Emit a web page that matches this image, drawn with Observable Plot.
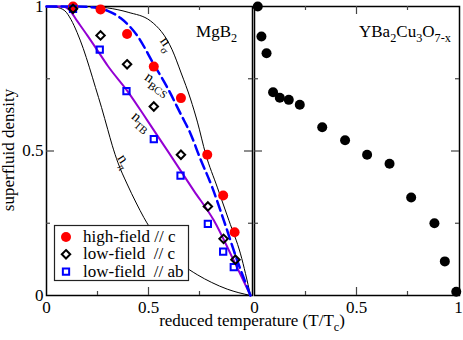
<!DOCTYPE html>
<html><head><meta charset="utf-8">
<script src="https://cdn.jsdelivr.net/npm/d3@7"></script>
<script src="https://cdn.jsdelivr.net/npm/@observablehq/plot@0.6"></script>
<style>
body{margin:0;background:#fff;}
#wrap{position:relative;width:463px;height:340px;}
#wrap svg{position:absolute;left:0;top:0;}
</style></head><body><div id="wrap"></div>
<script>
// ---- MgB2 measurements ----
const highFieldC_T = [0.13,0.265,0.395,0.526,0.659,0.788,0.866,0.922];
const highFieldC   = [1.0,0.99,0.905,0.792,0.683,0.487,0.346,0.219];
const lowFieldC_T  = [0.13,0.265,0.395,0.526,0.659,0.791,0.868,0.926];
const lowFieldC    = [0.992,0.90,0.80,0.654,0.487,0.308,0.196,0.124];
const lowFieldAB_T = [0.13,0.261,0.392,0.526,0.657,0.791,0.866,0.918];
const lowFieldAB   = [0.992,0.851,0.707,0.541,0.415,0.248,0.152,0.098];
// ---- model curves ----
const nSigmaT = [0,0.2,0.3,0.4,0.51,0.616,0.66,0.706,0.74,0.78,0.837,0.894,0.951,1];
const nSigma  = [1,1,0.995,0.98,0.95,0.85,0.77,0.68,0.6,0.49,0.375,0.26,0.144,0];
const nBCST = [0,0.15,0.25,0.3,0.363,0.444,0.526,0.592,0.66,0.706,0.75,0.812,0.869,0.935,1];
const nBCS  = [1,1,0.995,0.985,0.96,0.9,0.8,0.72,0.625,0.56,0.48,0.375,0.26,0.121,0];
const nTBT = [0,0.08,0.11,0.15,0.2,0.248,0.3,0.395,0.494,0.592,0.722,0.82,0.918,1];
const nTB  = [1,1,0.99,0.95,0.9,0.85,0.795,0.709,0.606,0.502,0.363,0.26,0.121,0];
const nPiT = [0,0.05,0.09,0.12,0.15,0.18,0.21,0.24,0.27,0.3,0.322,0.35,0.395,0.44,0.477,0.53,0.592,0.66,0.739,0.81,0.886,1];
const nPi  = [1,0.997,0.985,0.955,0.91,0.855,0.79,0.72,0.65,0.575,0.52,0.46,0.386,0.32,0.27,0.21,0.156,0.11,0.072,0.045,0.022,0];
// ---- YBCO measurements ----
const ybcoT = [0.016,0.034,0.059,0.091,0.124,0.168,0.222,0.332,0.444,0.552,0.662,0.768,0.882,0.933,0.989];
const ybco  = [1.0,0.896,0.838,0.703,0.684,0.677,0.66,0.582,0.537,0.487,0.456,0.339,0.25,0.118,0.013];
// ---- ticks ----
const majorTicks = [0,0.5,1];
const minorTicks = [0.25,0.75];
const tickLabels = ["0","0.5","1"];

const zip = (xs, ys) => xs.map((t, i) => ({t, v: ys[i]}));
const FONT = "'Liberation Serif', 'Times New Roman', serif";
const fmt = d => tickLabels[majorTicks.indexOf(d)];

function tickMarks(xmax, pxX, pxY) {
  const tk = [...minorTicks.map(v => ({v, L: 4})), {v: 0.5, L: 8}];
  const st = {stroke: "#444", strokeWidth: 1.2};
  return [
    Plot.ruleX(tk, {x: "v", y1: 0, y2: d => d.L / pxY, ...st}),
    Plot.ruleX(tk, {x: "v", y1: 1, y2: d => 1 - d.L / pxY, ...st}),
    Plot.ruleY(tk, {y: "v", x1: 0, x2: d => d.L / pxX, ...st}),
    Plot.ruleY(tk, {y: "v", x1: xmax, x2: d => xmax - d.L / pxX, ...st})
  ];
}

const common = {
  width: 463, height: 340, marginTop: 6, marginBottom: 45,
  style: {fontFamily: FONT, fontSize: "17px", background: "transparent", overflow: "visible", color: "black"}
};

const xmaxL = 206 / 204;
const left = Plot.plot({
  ...common,
  marginLeft: 46, marginRight: 211,
  x: {domain: [0, xmaxL]},
  y: {domain: [0, 1]},
  marks: [
    Plot.frame({stroke: "black", strokeWidth: 1.5}),
    ...tickMarks(xmaxL, 204, 289),
    Plot.line(zip(nPiT, nPi), {x: "t", y: "v", stroke: "black", strokeWidth: 1, curve: "monotone-x"}),
    Plot.line(zip(nSigmaT, nSigma), {x: "t", y: "v", stroke: "black", strokeWidth: 1, curve: "monotone-x"}),
    Plot.line(zip(nTBT, nTB), {x: "t", y: "v", stroke: "#9400d3", strokeWidth: 2, curve: "monotone-x"}),
    Plot.line(zip(nBCST, nBCS), {x: "t", y: "v", stroke: "#0000ff", strokeWidth: 2.5, strokeDasharray: "10,5", curve: "monotone-x"}),
    Plot.dot(zip(highFieldC_T, highFieldC), {x: "t", y: "v", r: 5, fill: "#ff0000", stroke: "none"}),
    Plot.dot(zip(lowFieldAB_T, lowFieldAB), {x: "t", y: "v", r: 4, symbol: "square2", fill: "none", stroke: "#0000ff", strokeWidth: 2}),
    Plot.dot(zip(lowFieldC_T, lowFieldC), {x: "t", y: "v", r: 3.8, symbol: "diamond2", fill: "none", stroke: "black", strokeWidth: 2}),
    Plot.axisX({ticks: [0, 0.5], tickSize: 0, tickPadding: 5, tickFormat: fmt, label: null, fontFamily: FONT}),
    Plot.axisY({ticks: majorTicks, tickSize: 0, tickPadding: 3, tickFormat: fmt, label: null, fontFamily: FONT})
  ]
});

const xmaxR = 205 / 204;
const right = Plot.plot({
  ...common,
  marginLeft: 254, marginRight: 4,
  x: {domain: [0, xmaxR]},
  y: {domain: [0, 1], axis: null},
  marks: [
    Plot.frame({stroke: "black", strokeWidth: 1.5}),
    ...tickMarks(xmaxR, 204, 289),
    Plot.dot(zip(ybcoT, ybco), {x: "t", y: "v", r: 5, fill: "black", stroke: "none"}),
    Plot.axisX({ticks: majorTicks, tickSize: 0, tickPadding: 5, tickFormat: fmt, label: null, fontFamily: FONT})
  ]
});

const wrap = document.getElementById("wrap");
wrap.appendChild(left);
wrap.appendChild(right);

function rich(sel, x, y, parts, {size = 17, anchor = "start", rotate = 0} = {}) {
  const t = sel.append("text")
    .attr("transform", `translate(${x},${y}) rotate(${rotate})`)
    .style("font-family", FONT).style("font-size", size + "px")
    .attr("text-anchor", anchor).attr("fill", "black")
    .style("white-space", "pre");
  let shift = 0;
  for (const [s, sub] of parts) {
    const sp = t.append("tspan").text(s);
    const target = sub ? size * 0.32 : 0;
    if (target !== shift) sp.attr("dy", target - shift);
    if (sub) sp.style("font-size", (size * 0.72) + "px");
    shift = target;
  }
  return t;
}

const sxL = left.scale("x"), syL = left.scale("y");
const sxR = right.scale("x"), syR = right.scale("y");
const gL = d3.select(left), gR = d3.select(right);

// panel titles
rich(gL, sxL.apply(0.937), syL.apply(0.893), [["MgB", 0], ["2", 1]], {anchor: "end"});
rich(gR, sxR.apply(0.965), syR.apply(0.893), [["YBa", 0], ["2", 1], ["Cu", 0], ["3", 1], ["O", 0], ["7-x", 1]], {anchor: "end"});

// curve labels
const curveLabels = [
  {t: 0.575, v: 0.86, parts: [["n", 0], ["σ", 1]], rot: 55},
  {t: 0.535, v: 0.72, parts: [["n", 0], ["BCS", 1]], rot: 35},
  {t: 0.455, v: 0.59, parts: [["n", 0], ["TB", 1]], rot: 40},
  {t: 0.365, v: 0.455, parts: [["n", 0], ["π", 1]], rot: 58}
];
for (const c of curveLabels) rich(gL, sxL.apply(c.t), syL.apply(c.v), c.parts, {size: 15, anchor: "middle", rotate: c.rot});

// axis titles
rich(gL, 252, 326, [["reduced temperature (T/T", 0], ["c", 1], [")", 0]], {anchor: "middle"});
rich(gL, 14, 150, [["superfluid density", 0]], {anchor: "middle", rotate: -90});

// legend
const lg = gL.append("g");
lg.append("rect").attr("x", 54.5).attr("y", 225.5).attr("width", 134).attr("height", 55)
  .attr("fill", "white").attr("stroke", "#222").attr("stroke-width", 1.2);
const legendRows = [
  {label: "high-field // c", sym: d3.symbolCircle, r: 5, fill: "#ff0000", stroke: "none"},
  {label: "low-field  // c", sym: d3.symbolDiamond2, r: 3.8, fill: "none", stroke: "black"},
  {label: "low-field  // ab", sym: d3.symbolSquare2, r: 4, fill: "none", stroke: "#0000ff"}
];
legendRows.forEach((d, i) => {
  const y = 237 + i * 17.3;
  lg.append("path").attr("d", d3.symbol(d.sym, Math.PI * d.r * d.r)())
    .attr("transform", `translate(66,${y})`).attr("fill", d.fill).attr("stroke", d.stroke).attr("stroke-width", 2);
  rich(lg, 83, y + 5, [[d.label, 0]], {size: 17});
});
</script></body></html>
